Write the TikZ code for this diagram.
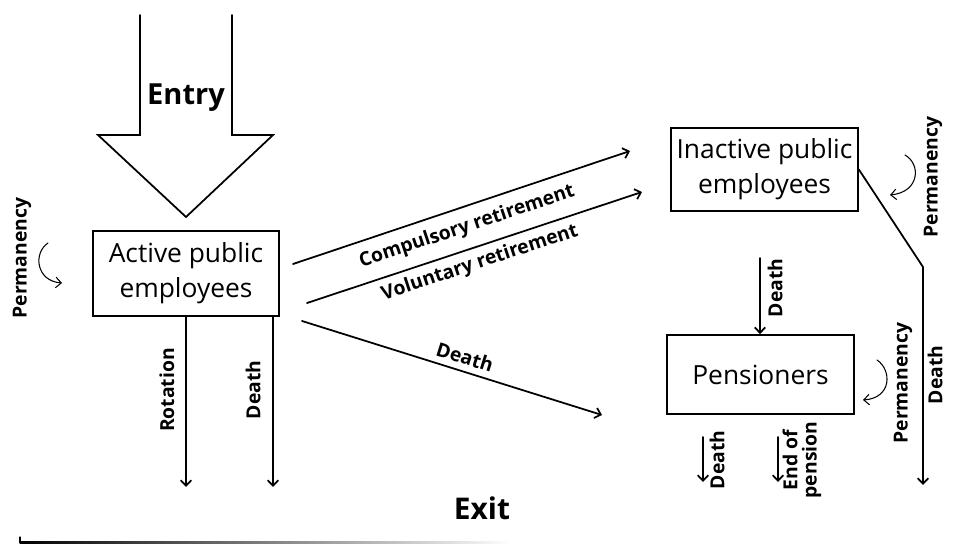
\documentclass[tikz,border=0pt]{standalone}
\usepackage{fontspec}
\setmainfont{Open Sans}
\usetikzlibrary{arrows.meta,positioning}
\tikzset{
  box/.style={draw,line width=1pt,minimum width=3.74cm,minimum height=1.66cm,
              align=center,inner sep=2pt,font=\fontsize{15}{20}\selectfont},
  flow/.style={->,line width=1pt},
  stay/.style={->,line width=0.6pt},
  tag/.style={font=\bfseries\fontsize{11}{12}\selectfont,inner sep=1pt},
  vtag/.style={tag,rotate=90,align=center}
}

\begin{document}
\begin{tikzpicture}[x=0.02cm,y=-0.02cm,>={Straight Barb[length=1.1mm,width=2.1mm]},line cap=round]
  \useasboundingbox (0,0) rectangle (960,544);

  % big entry arrow
  \draw[line width=1pt,line join=miter] (140,15) -- (140,135) -- (98,135) -- (186,217)
        -- (273,135) -- (232,135) -- (232,15);
  \node[font=\bfseries\fontsize{16.5}{18}\selectfont] (entry) at (186,98) {Entry};

  \node[box,minimum width=3.72cm,minimum height=1.7cm] (act) at (186,273.5) {Active public\\employees};
  \node[box] (inact) at (764.5,169.5) {Inactive public\\employees};
  \node[box,minimum height=1.58cm] (pens) at (760.5,374.5) {Pensioners};

  % permanency loops
  \draw[stay] (48,243) .. controls (33,253) and (36,281) .. (62,283);
  \node[vtag] (permA) at (22,258) {Permanency};
  \draw[stay] (905,155) .. controls (921,164) and (920,192) .. (890,195);
  \node[vtag] (permI) at (933,177) {Permanency};
  \draw[stay] (877,360) .. controls (892,370) and (892,398) .. (863,400);
  \node[vtag] (permP) at (903,383) {Permanency};

  % exits of the active ones
  \coordinate (rotEnd) at (186,487);
  \coordinate (deaEnd) at (273,487);
  \draw[flow] (act.south) -- (rotEnd);
  \draw[flow] (deaEnd |- act.south) -- (deaEnd);
  \node[vtag] (rot) at (167,390) {Rotation};
  \node[vtag] (deaA) at (253,390) {Death};

  % towards inactive and pensioners
  \coordinate (C1a) at (293,264);
  \coordinate (C1b) at (630,151);
  \coordinate (C2a) at (307,303);
  \coordinate (C2b) at (642,192);
  \coordinate (C3a) at (302,321);
  \coordinate (C3b) at (602,415);
  \draw[flow] (C1a) -- (C1b);
  \draw[flow] (C2a) -- (C2b);
  \draw[flow] (C3a) -- (C3b);
  \node[tag,rotate=18.5] (comp) at (467,227) {Compulsory retirement};
  \node[tag,rotate=18.3] (vol) at (480,263) {Voluntary retirement};
  \node[tag,rotate=-17.4] (deaB) at (465,357) {Death};

  % inactive side
  \coordinate (knee) at (923,267);
  \coordinate (kneeEnd) at (923,485);
  \draw[line width=1pt] (inact.east) -- (knee);
  \draw[flow] (knee) -- (kneeEnd);
  \node[vtag] (deaR) at (935,375) {Death};
  \coordinate (D1) at (760,258);
  \draw[flow] (D1) -- (D1 |- pens.north);
  \node[vtag] (deaI) at (775,288) {Death};

  % pensioners leaving
  \coordinate (P1a) at (703,437);
  \coordinate (P1b) at (703,482);
  \coordinate (P2a) at (778,437);
  \coordinate (P2b) at (778,482);
  \draw[flow] (P1a) -- (P1b);
  \draw[flow] (P2a) -- (P2b);
  \node[vtag] (deaP) at (717,460) {Death};
  \node[vtag,font=\bfseries\fontsize{11}{11}\selectfont] (endp) at (802,460) {End of\\pension};

  \node[font=\bfseries\fontsize{17}{18}\selectfont] (exit) at (482,508) {Exit};
  \shade[left color=black,right color=white] (20,541) rectangle (512,543.5);
  \draw[line width=0.6pt] (20,537) -- (20,543);
\end{tikzpicture}
\end{document}
